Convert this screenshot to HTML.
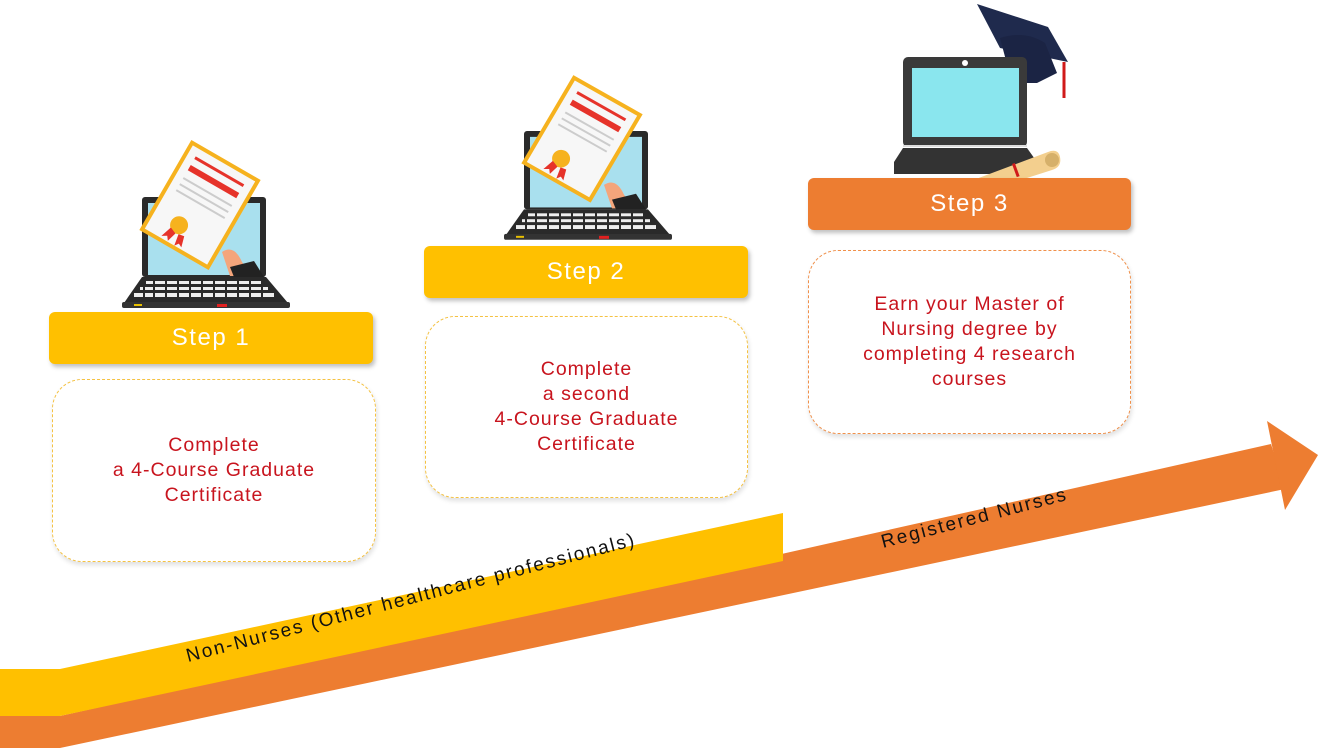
<!DOCTYPE html>
<html><head><meta charset="utf-8"><style>
body{margin:0;width:1320px;height:753px;background:#fff;position:relative;overflow:hidden;font-family:"Liberation Sans",sans-serif}
.lbl{position:absolute;height:52px;border-radius:6px;color:#fff;font-size:24px;letter-spacing:1.5px;display:flex;align-items:center;justify-content:center;box-shadow:2px 3px 4px rgba(0,0,0,0.25)}
.box{position:absolute;border-radius:30px;border:1.5px dashed #f5c242;display:flex;align-items:center;justify-content:center;text-align:center;color:#c8141e;font-size:19.5px;letter-spacing:1px;line-height:25px;box-shadow:1px 3px 5px rgba(0,0,0,0.12);box-sizing:border-box;background:#fff}
svg{position:absolute;left:0;top:0}
</style></head><body>
<svg width="1320" height="753">
<defs>
<g id="lap">
  <rect x="20" y="0" width="124" height="80" rx="3" fill="#2a2a2a"/>
  <rect x="26" y="6" width="112" height="72" fill="#a9e0ee"/>
  <path d="M100,55 q12,-8 20,10 l10,14 h-22 z" fill="#f4a57b"/>
  <path d="M108,70 l24,-6 l10,16 h-30 z" fill="#222"/>
  <g transform="translate(78,8) rotate(30)">
    <rect x="-40" y="-52" width="80" height="104" fill="#f6b21e"/>
    <rect x="-36" y="-48" width="72" height="96" fill="#f7f7f7"/>
    <rect x="-28" y="-40" width="56" height="3" fill="#e6332a"/>
    <rect x="-28" y="-30" width="56" height="6" fill="#e6332a"/>
    <rect x="-28" y="-16" width="56" height="2" fill="#ccc"/>
    <rect x="-28" y="-9" width="56" height="2" fill="#ccc"/>
    <rect x="-28" y="-2" width="56" height="2" fill="#ccc"/>
    <circle cx="-8" cy="28" r="9" fill="#f6b21e"/>
    <path d="M-14,34 l-4,12 l5,-3 l3,4 l3,-10z M-4,36 l2,12 l3,-4 l4,2 l-3,-11z" fill="#e6332a"/>
  </g>
  <polygon points="20,80 144,80 166,106 2,106" fill="#2a2a2a"/>
  <g fill="#eee">
    <rect x="24" y="84" width="116" height="3"/>
    <rect x="18" y="90" width="128" height="3"/>
    <rect x="12" y="96" width="140" height="4"/>
  </g>
  <g fill="#2a2a2a">
    <rect x="31" y="82" width="2" height="20"/><rect x="43" y="82" width="2" height="20"/><rect x="55" y="82" width="2" height="20"/><rect x="67" y="82" width="2" height="20"/><rect x="79" y="82" width="2" height="20"/><rect x="91" y="82" width="2" height="20"/><rect x="103" y="82" width="2" height="20"/><rect x="115" y="82" width="2" height="20"/><rect x="127" y="82" width="2" height="20"/><rect x="139" y="82" width="2" height="20"/><rect x="21" y="88" width="2" height="14"/>
  </g>
  <rect x="0" y="105" width="168" height="6" rx="2" fill="#333"/>
  <rect x="12" y="107" width="8" height="2" fill="#e8c000"/>
  <rect x="95" y="107" width="10" height="3" fill="#e02020"/>
</g>
</defs>
<use href="#lap" transform="translate(122,197)"/>
<use href="#lap" transform="translate(504,131) scale(1,0.98)"/>
<!-- laptop 3 -->
<path d="M977,4 L1048,27 L1068,62 L1000,48 Z" fill="#1f2a4d"/>
<path d="M1000,38 q25,-8 45,5 l12,30 l-20,10 h-25 z" fill="#1b2444"/>
<line x1="1064" y1="62" x2="1064" y2="98" stroke="#d01a1a" stroke-width="3"/>
<rect x="903" y="57" width="124" height="90" rx="5" fill="#3a3a3a"/>
<rect x="912" y="68" width="107" height="69" fill="#8ae6ee"/>
<circle cx="965" cy="63" r="3" fill="#fff"/>
<rect x="903" y="145" width="124" height="2" fill="#ddd"/>
<path d="M903,148 h124 l10,14 v12 h-143 v-12 z" fill="#333"/>
<path d="M968,182 l80,-30 q10,-4 12,5 q2,10 -8,13 l-78,25 q-8,2 -10,-5 q-2,-6 4,-8z" fill="#f3cf8e"/>
<circle cx="1052" cy="160" r="7" fill="#d6b06a"/>
<rect x="1012" y="164" width="3" height="14" fill="#d01a1a" transform="rotate(-20 1012 164)"/>
<!-- arrow -->
<polygon points="0,716 60,716 1271,444 1285,489 60,748 0,748" fill="#ed7d31"/>
<polygon points="1267,421 1318,455 1285,510" fill="#ed7d31"/>
<polygon points="0,669 60,669 783,513 783,561 60,716 0,716" fill="#ffc000"/>
<text x="0" y="0" transform="translate(188,662) rotate(-14.6)" font-size="19" fill="#111" textLength="462" lengthAdjust="spacing" font-family="Liberation Sans, sans-serif">Non-Nurses (Other healthcare professionals)</text>
<text x="0" y="0" transform="translate(883,548) rotate(-14.6)" font-size="19" fill="#111" textLength="190" lengthAdjust="spacing" font-family="Liberation Sans, sans-serif">Registered Nurses</text>
</svg>
<div class="lbl" style="left:49px;top:312px;width:324px;background:#ffc000">Step 1</div>
<div class="lbl" style="left:424px;top:246px;width:324px;background:#ffc000">Step 2</div>
<div class="lbl" style="left:808px;top:178px;width:323px;background:#ed7d31">Step 3</div>
<div class="box" style="left:52px;top:379px;width:324px;height:183px">Complete<br>a 4-Course Graduate<br>Certificate</div>
<div class="box" style="left:425px;top:316px;width:323px;height:182px">Complete<br>a second<br>4-Course Graduate<br>Certificate</div>
<div class="box" style="left:808px;top:250px;width:323px;height:184px;border-color:#f0904a">Earn your Master of<br>Nursing degree by<br>completing 4 research<br>courses</div>
</body></html>
